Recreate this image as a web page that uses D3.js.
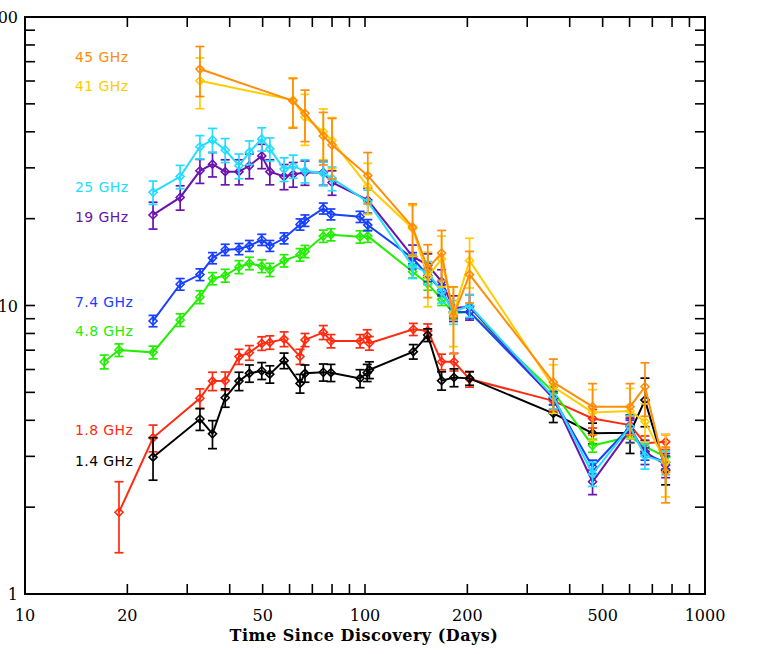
<!DOCTYPE html>
<html>
<head>
<meta charset="utf-8">
<script src="https://d3js.org/d3.v7.min.js"></script>
<style>
  body { margin: 0; background: #fff; }
  svg { display: block; }
  .tick-label { font-family: 'DejaVu Serif', serif; font-size: 16px; fill: #000; }
  .axis-title { font-family: 'DejaVu Serif', serif; font-size: 16px; font-weight: bold; letter-spacing: 0.5px; fill: #000; }
  .band-label { font-family: 'DejaVu Sans', sans-serif; font-size: 14px; letter-spacing: 0.4px; }
</style>
</head>
<body>
<div id="chart"></div>
<script>

  // epochs (days since discovery)
  var tHigh = [32.7, 61.4, 66.6, 75.4, 80, 101.9, 138, 153, 168, 182, 203, 358, 467, 602, 666, 766];
  var tMid = [23.8, 28.6, 32.7, 35.6, 38.8, 42.6, 45.7, 49.7, 52.5, 57.8, 61.5, 66.6, 75.4, 80, 101.9, 138, 153, 168, 182, 203, 358, 467, 602, 666, 766];
  var tBlue = [23.8, 28.6, 32.7, 35.6, 38.8, 42.6, 45.7, 49.7, 52.5, 57.8, 64.4, 66.6, 75.4, 79.4, 96.7, 101.9, 138, 153, 168, 182, 203, 358, 467, 602, 666, 766];
  var tGreen = [17.1, 18.9, 23.8, 28.6, 32.7, 35.6, 38.8, 42.6, 45.7, 49.7, 52.5, 57.8, 64.4, 66.6, 75.4, 79.4, 96.7, 101.9, 138, 153, 168, 182, 203, 358, 467, 602, 666, 766];
  var tRed = [18.9, 23.8, 32.7, 35.6, 38.8, 42.6, 45.7, 49.7, 52.5, 57.8, 64.4, 66.6, 75.4, 79.4, 96.7, 101.5, 103, 138.7, 152.9, 168, 182.7, 203, 358, 467, 602, 666, 766];
  var tBlack = [23.8, 32.7, 35.6, 38.8, 42.6, 45.7, 49.7, 52.5, 57.8, 64.4, 66.6, 75.4, 79.4, 96.7, 101.5, 103, 138.7, 152.9, 168, 182.7, 203, 358, 467, 602, 666, 766];

  // flux densities (mJy) and errors
  var f45 = [66.0, 51.2, 46.4, 38.7, 36.0, 28.2, 18.7, 13.45, 15.2, 9.2, 12.8, 5.42, 4.46, 4.46, 5.23, 2.65];
  var e45 = [13, 10, 9.4, 8, 8.5, 5.7, 3.8, 2.8, 3, 2.4, 2.6, 1.1, 0.9, 0.9, 1.1, 0.58];
  var f41 = [60.1, 51.5, 44.9, 40.0, 37.3, 25.9, 18.5, 12.6, 14.5, 9.4, 14.3, 5.23, 4.26, 4.31, 3.96, 2.87];
  var e41 = [12, 10, 9, 8, 7.5, 5.2, 3.7, 2.7, 2.9, 2.2, 2.8, 1.0, 0.85, 0.85, 0.6, 0.7];
  var f25 = [24.7, 28.0, 35.5, 37.5, 34.6, 30.5, 34.0, 37.8, 34.9, 29.7, 30.4, 29.3, 28.7, 27.6, 22.9, 13.7, 13.0, 11.2, 9.5, 10.0, 4.83, 2.61, 3.8, 3.01, 2.86];
  var e25 = [2.3, 2.6, 3.3, 3.6, 3.3, 3, 3.2, 3.5, 3.2, 2.8, 2.8, 2.7, 2.7, 2.6, 2.2, 1.3, 1.2, 1.0, 0.9, 0.9, 0.45, 0.25, 0.35, 0.3, 0.27];
  var f19 = [20.6, 23.7, 29.3, 30.9, 29.1, 29.1, 30.5, 33.0, 29.1, 28.0, 28.5, 28.9, 28.9, 26.7, 23.2, 14.8, 13.8, 12.1, 9.8, 9.9, 4.77, 2.45, 3.7, 3.11, 2.8];
  var e19 = [2.2, 2.3, 2.8, 3, 2.9, 2.9, 3, 3.2, 2.9, 2.8, 2.8, 2.8, 2.8, 2.6, 2.3, 1.4, 1.3, 1.2, 1.0, 1.0, 0.45, 0.24, 0.35, 0.3, 0.27];
  var f74 = [8.84, 11.85, 12.8, 14.6, 15.6, 15.7, 16.1, 16.9, 16.1, 17.1, 19.1, 19.7, 21.7, 20.7, 20.3, 19.0, 14.6, 12.7, 11.3, 9.5, 9.5, 4.78, 2.76, 3.8, 3.06, 2.86];
  var e74 = [0.4, 0.55, 0.6, 0.65, 0.7, 0.7, 0.7, 0.75, 0.7, 0.75, 0.85, 0.9, 0.95, 0.9, 0.9, 0.85, 0.65, 0.6, 0.5, 0.45, 0.45, 0.25, 0.15, 0.2, 0.15, 0.15];
  var f48 = [6.38, 7.01, 6.88, 8.91, 10.7, 12.4, 12.7, 13.6, 14.0, 13.7, 13.3, 14.3, 15.0, 15.4, 17.4, 17.6, 17.3, 17.4, 13.1, 11.9, 10.5, 9.4, 9.5, 5.02, 3.27, 3.51, 3.24, 2.99];
  var e48 = [0.35, 0.35, 0.35, 0.45, 0.55, 0.6, 0.65, 0.7, 0.7, 0.7, 0.7, 0.7, 0.75, 0.75, 0.85, 0.85, 0.85, 0.85, 0.65, 0.6, 0.5, 0.45, 0.45, 0.25, 0.17, 0.18, 0.16, 0.15];
  var f18 = [1.92, 3.48, 4.77, 5.47, 5.48, 6.65, 6.86, 7.39, 7.45, 7.65, 6.65, 7.6, 8.07, 7.53, 7.53, 7.84, 7.4, 8.27, 8.18, 6.38, 6.38, 5.56, 4.67, 4.06, 3.85, 3.33, 3.37];
  var e18 = [0.53, 0.37, 0.37, 0.4, 0.4, 0.4, 0.4, 0.4, 0.4, 0.45, 0.4, 0.4, 0.45, 0.4, 0.4, 0.4, 0.4, 0.4, 0.45, 0.4, 0.45, 0.35, 0.3, 0.3, 0.25, 0.2, 0.2];
  var f14 = [2.98, 4.04, 3.59, 4.79, 5.47, 5.82, 5.94, 5.78, 6.44, 5.37, 5.82, 5.87, 5.85, 5.59, 5.85, 5.98, 6.92, 7.9, 5.49, 5.63, 5.59, 4.23, 3.61, 3.62, 4.70, 2.69];
  var e14 = [0.5, 0.35, 0.4, 0.35, 0.4, 0.4, 0.4, 0.4, 0.4, 0.4, 0.4, 0.4, 0.4, 0.4, 0.4, 0.4, 0.4, 0.4, 0.4, 0.4, 0.3, 0.3, 0.3, 0.55, 0.9, 0.3];

  var bandNames = ["45 GHz", "41 GHz", "25 GHz", "19 GHz", "7.4 GHz", "4.8 GHz", "1.8 GHz", "1.4 GHz"];
  var bandColors = ["#ff8c0a", "#ffcc00", "#22ddff", "#6a14b0", "#1840ff", "#22ee00", "#ff2a10", "#000000"];
  var labelY = [62, 91, 191.5, 222, 306.5, 336, 434.5, 466];

  var xTickLabels = [10, 20, 50, 100, 200, 500, 1000];
  var yTickLabels = [1, 10, 100];

  var W = 777, H = 654;
  var x = d3.scaleLog().domain([10, 1000]).range([25, 705]);
  var y = d3.scaleLog().domain([1, 100]).range([594, 17]);

  var svg = d3.select("#chart").append("svg")
    .attr("width", W)
    .attr("height", H);

  // series in drawing order (bottom first)
  var series = [
    { t: tRed, f: f18, e: e18, i: 6 },
    { t: tBlack, f: f14, e: e14, i: 7 },
    { t: tGreen, f: f48, e: e48, i: 5 },
    { t: tBlue, f: f74, e: e74, i: 4 },
    { t: tMid, f: f19, e: e19, i: 3 },
    { t: tMid, f: f25, e: e25, i: 2 },
    { t: tHigh, f: f41, e: e41, i: 1 },
    { t: tHigh, f: f45, e: e45, i: 0 }
  ];

  var line = d3.line()
    .x(function (d) { return x(d.t); })
    .y(function (d) { return y(d.f); });

  var diamond = function (d) {
    var cx = x(d.t), cy = y(d.f), r = 4;
    return "M" + cx + "," + (cy - r) + "L" + (cx + r) + "," + cy +
      "L" + cx + "," + (cy + r) + "L" + (cx - r) + "," + cy + "Z";
  };

  series.forEach(function (s) {
    var pts = s.t.map(function (t, k) { return { t: t, f: s.f[k], e: s.e[k] }; });
    var col = bandColors[s.i];
    var g = svg.append("g");

    g.append("path")
      .datum(pts)
      .attr("d", line)
      .attr("fill", "none")
      .attr("stroke", col)
      .attr("stroke-width", 2);

    // error bars
    var eb = g.selectAll(".eb").data(pts).enter().append("g");
    eb.append("line")
      .attr("x1", function (d) { return x(d.t); })
      .attr("x2", function (d) { return x(d.t); })
      .attr("y1", function (d) { return y(d.f + d.e); })
      .attr("y2", function (d) { return y(Math.max(d.f - d.e, 1.01)); })
      .attr("stroke", col).attr("stroke-width", 1.7);
    eb.append("line")
      .attr("x1", function (d) { return x(d.t) - 4.5; })
      .attr("x2", function (d) { return x(d.t) + 4.5; })
      .attr("y1", function (d) { return y(d.f + d.e); })
      .attr("y2", function (d) { return y(d.f + d.e); })
      .attr("stroke", col).attr("stroke-width", 1.7);
    eb.append("line")
      .attr("x1", function (d) { return x(d.t) - 4.5; })
      .attr("x2", function (d) { return x(d.t) + 4.5; })
      .attr("y1", function (d) { return y(d.f - d.e); })
      .attr("y2", function (d) { return y(d.f - d.e); })
      .attr("stroke", col).attr("stroke-width", 1.7);

    g.selectAll(".pt").data(pts).enter().append("path")
      .attr("d", diamond)
      .attr("fill", "none")
      .attr("stroke", col)
      .attr("stroke-width", 1.6);
  });

  // band labels
  svg.selectAll(".band-label").data(bandNames).enter().append("text")
    .attr("class", "band-label")
    .attr("x", 75)
    .attr("y", function (d, i) { return labelY[i]; })
    .attr("fill", function (d, i) { return bandColors[i]; })
    .text(function (d) { return d; });

  // frame with inward ticks on all four sides
  var tickLen = 10;
  var xTicks = [];
  [10, 100].forEach(function (dec) { for (var m = 2; m <= 9; m++) xTicks.push(dec * m); });
  xTicks.push(100);
  var yTicks = [];
  [1, 10].forEach(function (dec) { for (var m = 2; m <= 9; m++) yTicks.push(dec * m); });
  yTicks.push(10);

  var axisG = svg.append("g").attr("stroke", "#000").attr("stroke-width", 1.6);
  xTicks.forEach(function (v) {
    axisG.append("line").attr("x1", x(v)).attr("x2", x(v)).attr("y1", y(1)).attr("y2", y(1) - tickLen);
    axisG.append("line").attr("x1", x(v)).attr("x2", x(v)).attr("y1", y(100)).attr("y2", y(100) + tickLen);
  });
  yTicks.forEach(function (v) {
    axisG.append("line").attr("y1", y(v)).attr("y2", y(v)).attr("x1", x(10)).attr("x2", x(10) + tickLen);
    axisG.append("line").attr("y1", y(v)).attr("y2", y(v)).attr("x1", x(1000)).attr("x2", x(1000) - tickLen);
  });
  svg.append("rect")
    .attr("x", x(10)).attr("y", y(100))
    .attr("width", x(1000) - x(10)).attr("height", y(1) - y(100))
    .attr("fill", "none").attr("stroke", "#000").attr("stroke-width", 2);

  // tick labels
  svg.selectAll(".xl").data(xTickLabels).enter().append("text")
    .attr("class", "tick-label")
    .attr("x", function (d) { return x(d); })
    .attr("y", 621)
    .attr("text-anchor", "middle")
    .text(function (d) { return d; });

  svg.selectAll(".yl").data(yTickLabels).enter().append("text")
    .attr("class", "tick-label")
    .attr("x", 18)
    .attr("y", function (d) { return y(d) + 6; })
    .attr("text-anchor", "end")
    .text(function (d) { return d; });

  svg.append("text")
    .attr("class", "axis-title")
    .attr("x", 364)
    .attr("y", 641)
    .attr("text-anchor", "middle")
    .text("Time Since Discovery (Days)");

</script>
</body>
</html>
